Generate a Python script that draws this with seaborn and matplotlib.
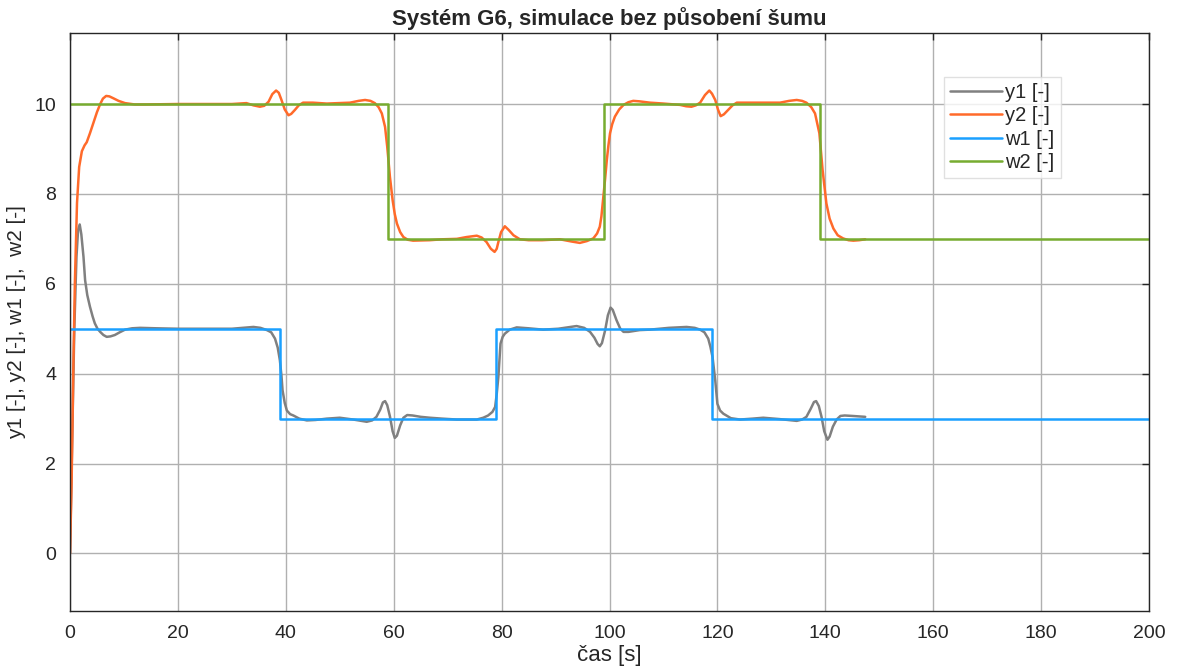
import numpy as np
import pandas as pd
import seaborn as sns
import matplotlib.pyplot as plt

# setpoints (step changes)
w1_t = [0, 39, 79, 119, 200]
w1_v = [5, 3, 5, 3, 3]
w2_t = [0, 59, 99, 139, 200]
w2_v = [10, 7, 10, 7, 7]

# y1 response
y1_t = [0, 0.4, 0.8, 1.2, 1.5, 1.8, 2.1, 2.5, 2.8, 3.2, 3.7, 4.2, 4.6, 5.1, 5.6, 6.2,
        6.8, 7.5, 8.3, 9.2, 10.2, 11.5, 13, 16, 20, 30, 32, 34, 35.3,
        36.5, 37.3, 38, 38.5, 38.9, 39.2, 39.4, 39.8, 40.2, 40.8, 41.4, 42.5, 43.9,
        45.5, 47.6, 50, 52.5, 55, 56, 56.8,
        57.5, 58.0, 58.4, 58.8, 59.3, 59.8, 60.2, 60.6, 61.2, 61.8, 62.5, 63.5, 65,
        66.7, 69, 71.7, 75.4, 76.6, 77.5,
        78.3, 78.8, 79.1, 79.4, 79.6, 79.8, 80.2, 80.6, 81.5, 82.8,
        85, 87.7, 90.5, 93.9, 95.3, 96.4,
        97.2, 97.8, 98.2, 98.6, 99.2, 99.7, 100.2, 100.6, 101.3, 102, 102.6, 103.5, 105.6,
        107.5, 111, 114.3, 115.8, 116.8,
        117.6, 118.3, 118.7, 119.1, 119.6, 120, 120.5, 121.1, 122.5, 124.2,
        126.5, 128.5, 131.5, 134.7, 135.7, 136.5,
        137.3, 137.9, 138.3, 138.8, 139.3, 139.8, 140.4, 140.8, 141.4, 142.1, 142.8,
        143.6, 145, 147.4]
y1_v = [0, 2.5, 5.0, 6.6, 7.2, 7.32, 7.1, 6.6, 6.08, 5.75, 5.49, 5.27, 5.12, 5.0, 4.93, 4.86,
        4.82, 4.83, 4.86, 4.92, 4.98, 5.01, 5.02, 5.01, 5.0, 5.0, 5.02, 5.04, 5.02,
        4.97, 4.92, 4.78, 4.58, 4.3, 3.95, 3.63, 3.35, 3.18, 3.1, 3.07, 3.0, 2.96,
        2.97, 3.0, 3.02, 2.98, 2.93, 2.96, 3.04,
        3.2, 3.36, 3.39, 3.3, 3.05, 2.72, 2.57, 2.62, 2.85, 3.02, 3.08, 3.07, 3.04,
        3.02, 3.0, 2.98, 2.98, 3.02, 3.07,
        3.15, 3.26, 3.55, 3.93, 4.3, 4.67, 4.82, 4.89, 4.98, 5.03,
        5.01, 4.98, 5.0, 5.06, 5.02, 4.93,
        4.8, 4.66, 4.61, 4.68, 4.97, 5.3, 5.47, 5.42, 5.19, 5.0, 4.93, 4.93, 4.97,
        4.98, 5.02, 5.04, 5.02, 4.98,
        4.92, 4.78, 4.6, 4.37, 3.85, 3.33, 3.18, 3.11, 3.01, 2.98,
        3.0, 3.02, 2.99, 2.95, 2.98, 3.04,
        3.22, 3.37, 3.39, 3.28, 3.04, 2.72, 2.53, 2.6, 2.82, 2.98, 3.06,
        3.07, 3.06, 3.04]

# y2 response
y2_t = [0, 0.3, 0.6, 0.9, 1.3, 1.7, 2.2, 2.7, 3.1, 3.7, 4.3, 5.0, 5.6, 6.1, 6.7, 7.3,
        8.0, 9.0, 10.2, 12, 14, 20, 30, 32.7, 34, 35.2, 36, 36.8, 37.5, 38.2, 38.7,
        39.2, 39.8, 40.5, 41.0, 41.7, 42.4, 43.2, 45, 47.6, 51.9, 53.5, 54.7, 55.7,
        56.5, 57.2, 57.8, 58.4, 58.8, 59.3, 59.8, 60.2, 60.6, 61.2, 61.8, 62.6, 63.6,
        66.7, 69, 71.7, 73.5, 75.4, 76.3, 77.2, 78.0, 78.7, 79.1, 79.4, 79.9, 80.6,
        81.3, 82.2, 83.4, 85, 87.5, 90.8, 93, 94.5, 95.8, 97, 97.7, 98.2, 98.5, 98.8,
        99.2, 99.5, 99.8, 100.1, 100.5, 101, 101.8, 102.6, 103.5, 104.4, 105.5, 107.5,
        110, 113.1, 114.2, 115.2, 116, 116.8, 117.7, 118.5, 119, 119.6, 120.1, 120.6,
        121.2, 122, 122.8, 123.6, 125, 127.9, 131.6, 133.3, 134.7, 135.7, 136.5,
        137.4, 138.1, 138.9, 139.5, 140.2, 140.8, 141.5, 142.3, 143.3, 144.3, 145.2,
        146.3, 147.4]
y2_v = [0, 1.6, 4.0, 6.0, 7.8, 8.6, 8.95, 9.08, 9.15, 9.35, 9.57, 9.82, 10.0, 10.12, 10.18, 10.17,
        10.13, 10.07, 10.02, 9.99, 9.99, 10.0, 10.0, 10.02, 9.97, 9.94, 9.96, 10.05, 10.22, 10.3, 10.25,
        10.09, 9.88, 9.75, 9.78, 9.87, 9.97, 10.03, 10.03, 10.01, 10.03, 10.07, 10.09, 10.07,
        10.02, 9.93, 9.79, 9.49, 9.05, 8.38, 7.86, 7.55, 7.34, 7.15, 7.04, 6.98, 6.96,
        6.97, 6.99, 7.0, 7.04, 7.07, 7.03, 6.93, 6.78, 6.71, 6.78, 6.93, 7.15, 7.28,
        7.2, 7.08, 6.99, 6.97, 6.97, 6.99, 6.94, 6.91, 6.95, 7.01, 7.12, 7.27, 7.5, 7.86,
        8.35, 8.75, 9.08, 9.35, 9.55, 9.72, 9.88, 9.98, 10.04, 10.07, 10.06, 10.03,
        10.01, 9.98, 9.95, 9.94, 9.97, 10.03, 10.2, 10.3, 10.23, 10.09, 9.88, 9.73,
        9.77, 9.87, 9.97, 10.03, 10.03, 10.03, 10.03, 10.07, 10.09, 10.07, 10.03,
        9.93, 9.79, 9.35, 8.53, 7.79, 7.45, 7.23, 7.08, 7.01, 6.97, 6.96,
        6.97, 6.99]

sns.set_theme(style="white")
plt.rcParams['font.family'] = ['Liberation Sans', 'DejaVu Sans']

fig = plt.figure(figsize=(11.79, 6.72), dpi=100)
ax = fig.add_axes([70 / 1179, 1 - 611 / 672, 1079 / 1179, 578 / 672])

sns.lineplot(x=y1_t, y=y1_v, ax=ax, color="#808080", lw=1.8, label="y1 [-]",
             estimator=None, sort=False)
sns.lineplot(x=y2_t, y=y2_v, ax=ax, color="#FF6A2A", lw=1.8, label="y2 [-]",
             estimator=None, sort=False)
sns.lineplot(x=w1_t, y=w1_v, ax=ax, color="#1AA0FF", lw=1.8, label="w1 [-]",
             estimator=None, drawstyle="steps-post")
sns.lineplot(x=w2_t, y=w2_v, ax=ax, color="#77AC30", lw=1.8, label="w2 [-]",
             estimator=None, drawstyle="steps-post")

ax.set_xlim(0, 200)
ax.set_ylim(-1.28, 11.58)
ax.set_xticks(np.arange(0, 201, 20))
ax.set_yticks(np.arange(0, 11, 2))
ax.grid(True, color="#b0b0b0", lw=1)
ax.tick_params(direction="in", top=True, right=True, length=5, width=1,
               labelsize=14, colors="#262626", pad=10)
for s in ax.spines.values():
    s.set_color("#262626")
    s.set_linewidth(1)

ax.set_title("Systém G6, simulace bez působení šumu", fontsize=16,
             fontweight="bold", pad=6)
ax.set_xlabel("čas [s]", fontsize=16, labelpad=2)
ax.set_ylabel("y1 [-], y2 [-], w1 [-],  w2 [-]", fontsize=15, labelpad=6)

leg = ax.legend(loc="upper left", bbox_to_anchor=(0.81, 0.924), fontsize=14.5,
                frameon=True, fancybox=False, handlelength=2.6, handletextpad=0.15,
                borderpad=0.3, labelspacing=0.22, borderaxespad=0)
leg.get_frame().set_edgecolor("#d9d9d9")
leg.get_frame().set_linewidth(1)

plt.savefig("out.png", dpi=100)
